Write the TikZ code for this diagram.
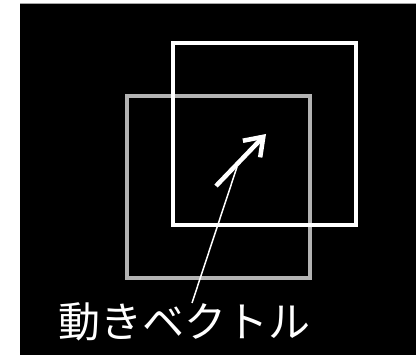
\documentclass[tikz,border=0pt]{standalone}
\usepackage{fontspec}
\newfontfamily\jpfont{Noto Sans CJK JP}
\usetikzlibrary{arrows.meta}
\definecolor{oldgray}{HTML}{B3B3B3}
\tikzset{
  frame/.style={line width=4pt, line join=miter},
  vec/.style={white, line width=4.5pt, -{Straight Barb[length=17pt,width=24pt,line width=4.5pt]}},
  pointer/.style={white, line width=1.5pt},
  lbl/.style={text=white, font=\jpfont\fontsize{42pt}{42pt}\selectfont, inner sep=0pt}
}
\begin{document}
\begin{tikzpicture}[x=1pt,y=-1pt]
\useasboundingbox (0,0) rectangle (416,355);
\fill[white] (0,0) rectangle (416,355);
\fill[black] (20,3) rectangle (416,355);
\draw[gray!70, line width=0.8pt] (20,3) -- (416,3);
% previous frame block (gray) and current block (white)
\draw[frame, oldgray] (127,96) rectangle (310,278);
\draw[frame, white] (173,43) rectangle (355.5,225.5);
% motion vector
\coordinate (vs) at (216,186);
\coordinate (ve) at (266,134);
\draw[vec] (vs) -- (ve);
% label
\node[lbl] (label) at (185,322) {動きベクトル};
\coordinate (pbot) at (192,303);
\coordinate (ptop) at (237,167);
\draw[pointer] (pbot) -- (ptop);
\end{tikzpicture}
\end{document}
